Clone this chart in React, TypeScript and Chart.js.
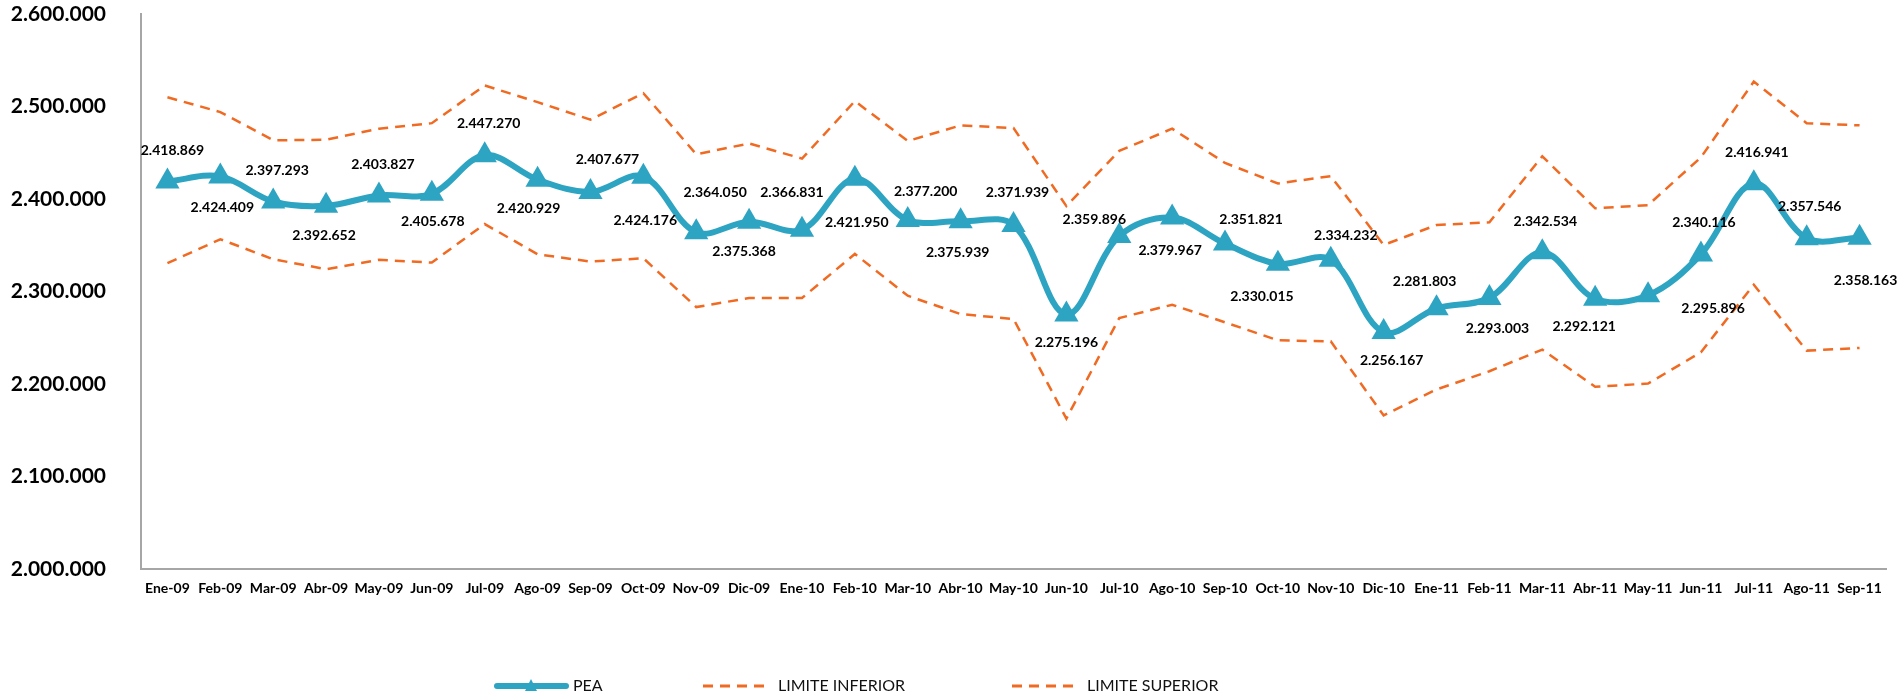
import { useEffect, useRef } from 'react';
import { Chart, registerables } from 'chart.js';

Chart.register(...registerables);

const MONTHS = [
  'Ene-09', 'Feb-09', 'Mar-09', 'Abr-09', 'May-09', 'Jun-09', 'Jul-09', 'Ago-09', 'Sep-09', 'Oct-09', 'Nov-09', 'Dic-09',
  'Ene-10', 'Feb-10', 'Mar-10', 'Abr-10', 'May-10', 'Jun-10', 'Jul-10', 'Ago-10', 'Sep-10', 'Oct-10', 'Nov-10', 'Dic-10',
  'Ene-11', 'Feb-11', 'Mar-11', 'Abr-11', 'May-11', 'Jun-11', 'Jul-11', 'Ago-11', 'Sep-11',
];

const PEA = [
  2418869, 2424409, 2397293, 2392652, 2403827, 2405678, 2447270, 2420929, 2407677, 2424176, 2364050, 2375368,
  2366831, 2421950, 2377200, 2375939, 2371939, 2275196, 2359896, 2379967, 2351821, 2330015, 2334232, 2256167,
  2281803, 2293003, 2342534, 2292121, 2295896, 2340116, 2416941, 2357546, 2358163,
];

const LIMITE_INFERIOR = [
  2330600, 2356500, 2334900, 2324100, 2334200, 2331300, 2372900, 2340300, 2332300, 2336000, 2283200, 2292900,
  2292900, 2340600, 2295400, 2275600, 2270300, 2162500, 2271300, 2285700, 2266700, 2247200, 2246100, 2166000,
  2194100, 2213800, 2237200, 2197000, 2200500, 2234300, 2307400, 2236100, 2239000,
];

const LIMITE_SUPERIOR = [
  2510000, 2494000, 2463500, 2464000, 2476000, 2482000, 2522700, 2504700, 2485800, 2514400, 2448400, 2460000,
  2443700, 2505800, 2462700, 2479600, 2476700, 2392300, 2452000, 2476000, 2439000, 2416800, 2424700, 2350300,
  2371900, 2374800, 2446200, 2389900, 2393400, 2445000, 2527000, 2482000, 2479600,
];

const Y_MIN = 2000000;
const Y_MAX = 2600000;
const Y_STEP = 100000;

// data-label offsets (dx, dy) from each PEA point, in px
const LABEL_OFFSETS: [number, number][] = [
  [5, -31], [2, 31], [4, -31], [-2, 30], [4, -31], [1, 28], [4, -32], [-9, 29], [17, -32], [2, 44], [19, -40], [-5, 30],
  [-10, -37], [2, 44], [18, -29], [-3, 31], [4, -32], [0, 28], [-25, -17], [-2, 33], [26, -24], [-16, 33], [15, -24], [8, 28],
  [-12, -27], [8, 31], [3, -31], [-11, 28], [65, 13], [3, -32], [3, -31], [3, -32], [6, 43],
];

const BLUE = '#2EA4C3';
const ORANGE = '#F06A22';
const AXIS = '#A6A6A6';
const FONT = 'Lato, "Open Sans", sans-serif';

const fmt = (v: number) => String(Math.round(v)).replace(/\B(?=(\d{3})+(?!\d))/g, '.');

const dataLabelsPlugin = {
  id: 'peaLabels',
  afterDatasetsDraw(chart: any) {
    const meta = chart.getDatasetMeta(0);
    const ctx = chart.ctx;
    ctx.save();
    ctx.font = `bold 14px ${FONT}`;
    ctx.fillStyle = '#000';
    ctx.textAlign = 'center';
    ctx.textBaseline = 'middle';
    meta.data.forEach((pt: any, i: number) => {
      const [dx, dy] = LABEL_OFFSETS[i] || [0, -30];
      ctx.fillText(fmt(PEA[i]), pt.x + dx, pt.y + dy);
    });
    ctx.restore();
  },
};

const legendPlugin = {
  id: 'customLegend',
  afterDraw(chart: any) {
    const ctx = chart.ctx;
    const y = 686;
    ctx.save();
    // PEA
    ctx.strokeStyle = BLUE;
    ctx.lineWidth = 6;
    ctx.lineCap = 'round';
    ctx.beginPath();
    ctx.moveTo(497, y);
    ctx.lineTo(566, y);
    ctx.stroke();
    ctx.fillStyle = BLUE;
    ctx.beginPath();
    ctx.moveTo(531, y - 7);
    ctx.lineTo(537, y + 5);
    ctx.lineTo(525, y + 5);
    ctx.closePath();
    ctx.fill();
    // dashed entries
    ctx.lineCap = 'butt';
    ctx.strokeStyle = ORANGE;
    ctx.lineWidth = 3;
    ctx.setLineDash([10, 7]);
    ctx.beginPath();
    ctx.moveTo(703, y);
    ctx.lineTo(768, y);
    ctx.moveTo(1012, y);
    ctx.lineTo(1077, y);
    ctx.stroke();
    ctx.setLineDash([]);
    ctx.fillStyle = '#111';
    ctx.font = `16px ${FONT}`;
    ctx.textAlign = 'left';
    ctx.textBaseline = 'middle';
    ctx.fillText('PEA', 573, y);
    ctx.fillText('LIMITE INFERIOR', 778, y);
    ctx.fillText('LIMITE SUPERIOR', 1087, y);
    ctx.restore();
  },
};

export default function App() {
  const canvasRef = useRef<HTMLCanvasElement | null>(null);

  useEffect(() => {
    document.body.style.margin = '0';
    const canvas = canvasRef.current;
    if (!canvas) return;
    const chart = new Chart(canvas, {
      type: 'line',
      data: {
        labels: MONTHS,
        datasets: [
          {
            label: 'PEA',
            data: PEA,
            borderColor: BLUE,
            backgroundColor: BLUE,
            borderWidth: 6,
            tension: 0.35,
            pointStyle: 'triangle',
            pointRadius: 14,
            pointHoverRadius: 14,
            pointBorderWidth: 0,
            pointBackgroundColor: BLUE,
            order: 0,
          },
          {
            label: 'LIMITE INFERIOR',
            data: LIMITE_INFERIOR,
            borderColor: ORANGE,
            backgroundColor: ORANGE,
            borderWidth: 2.5,
            borderDash: [10, 7],
            pointRadius: 0,
            tension: 0,
            order: 1,
          },
          {
            label: 'LIMITE SUPERIOR',
            data: LIMITE_SUPERIOR,
            borderColor: ORANGE,
            backgroundColor: ORANGE,
            borderWidth: 2.5,
            borderDash: [10, 7],
            pointRadius: 0,
            tension: 0,
            order: 2,
          },
        ],
      },
      options: {
        responsive: false,
        devicePixelRatio: 1,
        animation: false,
        layout: { padding: { top: 13, right: 15, bottom: 0, left: 0 } },
        plugins: {
          legend: { display: false },
          tooltip: { enabled: false },
          title: { display: false },
        },
        scales: {
          x: {
            type: 'category',
            offset: true,
            grid: { display: false, drawTicks: false },
            border: { display: true, color: AXIS, width: 2 },
            ticks: {
              color: '#000',
              font: { family: FONT, size: 14, weight: 'bold' },
              padding: 11,
              maxRotation: 0,
              autoSkip: false,
            },
            afterFit: (scale: any) => {
              scale.height = 126;
            },
          },
          y: {
            min: Y_MIN,
            max: Y_MAX,
            grid: { display: false, drawTicks: false },
            border: { display: true, color: AXIS, width: 2 },
            ticks: {
              stepSize: Y_STEP,
              color: '#000',
              font: { family: FONT, size: 21, weight: 'bold' },
              padding: 35,
              callback: (v: any) => fmt(Number(v)),
            },
            afterFit: (scale: any) => {
              scale.width = 141;
              scale.paddingTop = 0;
              scale.paddingBottom = 0;
            },
          },
        },
      },
      plugins: [dataLabelsPlugin, legendPlugin],
    });
    return () => chart.destroy();
  }, []);

  return <canvas ref={canvasRef} width={1901} height={695} style={{ display: 'block' }} />;
}
